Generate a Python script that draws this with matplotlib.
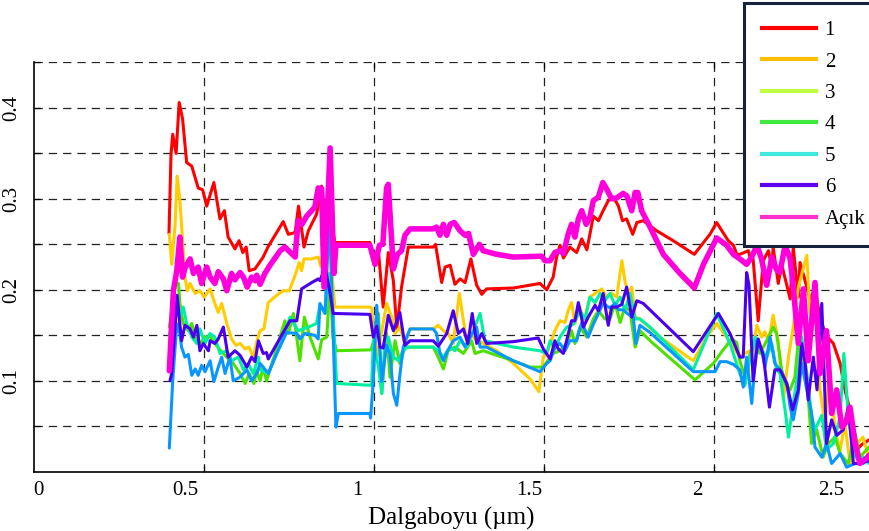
import matplotlib
matplotlib.use("Agg")
import matplotlib.pyplot as plt
from matplotlib.lines import Line2D

plt.rcParams["font.family"] = ["Liberation Serif", "DejaVu Serif"]
plt.rcParams["lines.scale_dashes"] = False

# ---- spectra (wavelength in µm, reflectance) ----
x1 = [0.397, 0.403, 0.408, 0.418, 0.427, 0.437, 0.449, 0.464, 0.483, 0.496, 0.508, 0.529, 0.547, 0.560,
      0.571, 0.591, 0.603, 0.614, 0.624, 0.633, 0.650, 0.674, 0.688, 0.709, 0.733, 0.748, 0.768, 0.778,
      0.784, 0.794, 0.807, 0.831, 0.846, 0.853, 0.862, 0.885, 0.988, 0.998, 1.013, 1.027, 1.042, 1.057,
      1.067, 1.081, 1.101, 1.174, 1.181, 1.199, 1.209, 1.224, 1.238, 1.253, 1.268, 1.285, 1.302, 1.317,
      1.331, 1.410, 1.488, 1.508, 1.527, 1.537, 1.547, 1.557, 1.576, 1.596, 1.611, 1.626, 1.635, 1.645,
      1.660, 1.674, 1.689, 1.704, 1.719, 1.731, 1.743, 1.761, 1.773, 1.792, 1.831, 1.880, 1.942, 1.988,
      2.008, 2.023, 2.042, 2.057, 2.067, 2.076, 2.101, 2.106, 2.115, 2.130, 2.145, 2.160, 2.170, 2.174,
      2.189, 2.199, 2.224, 2.233, 2.248, 2.253, 2.268, 2.282, 2.297, 2.312, 2.329, 2.351, 2.371, 2.385,
      2.400, 2.420, 2.435, 2.456]
y1 = [0.262, 0.349, 0.371, 0.350, 0.406, 0.388, 0.340, 0.336, 0.312, 0.310, 0.292, 0.318, 0.278, 0.287,
      0.258, 0.245, 0.254, 0.241, 0.247, 0.221, 0.223, 0.236, 0.247, 0.260, 0.275, 0.261, 0.263, 0.292,
      0.276, 0.247, 0.265, 0.283, 0.314, 0.289, 0.300, 0.252, 0.252, 0.236, 0.243, 0.181, 0.241, 0.210,
      0.157, 0.203, 0.247, 0.247, 0.250, 0.208, 0.225, 0.227, 0.206, 0.212, 0.208, 0.234, 0.205, 0.195,
      0.201, 0.202, 0.207, 0.200, 0.214, 0.236, 0.249, 0.235, 0.247, 0.241, 0.256, 0.244, 0.261, 0.281,
      0.276, 0.287, 0.298, 0.302, 0.292, 0.276, 0.278, 0.261, 0.274, 0.276, 0.265, 0.254, 0.239, 0.261,
      0.274, 0.265, 0.254, 0.249, 0.239, 0.239, 0.243, 0.236, 0.234, 0.166, 0.232, 0.243, 0.225, 0.247,
      0.207, 0.228, 0.190, 0.247, 0.192, 0.230, 0.210, 0.190, 0.200, 0.170, 0.150, 0.141, 0.119, 0.090,
      0.068, 0.024, 0.030, 0.035]

x2 = [0.398, 0.405, 0.415, 0.421, 0.429, 0.437, 0.444, 0.451, 0.459, 0.474, 0.488, 0.500, 0.518, 0.529,
      0.542, 0.552, 0.567, 0.581, 0.594, 0.606, 0.621, 0.632, 0.645, 0.655, 0.665, 0.676, 0.689, 0.714,
      0.733, 0.751, 0.768, 0.780, 0.787, 0.794, 0.817, 0.836, 0.843, 0.856, 0.869, 0.885, 0.988, 0.993,
      1.008, 1.023, 1.037, 1.052, 1.062, 1.076, 1.091, 1.106, 1.174, 1.189, 1.204, 1.218, 1.233, 1.251,
      1.263, 1.273, 1.287, 1.302, 1.321, 1.361, 1.410, 1.459, 1.485, 1.498, 1.513, 1.532, 1.547, 1.562,
      1.571, 1.581, 1.591, 1.606, 1.616, 1.635, 1.650, 1.670, 1.684, 1.699, 1.714, 1.729, 1.738, 1.748,
      1.758, 1.768, 1.782, 1.841, 1.939, 1.978, 2.008, 2.037, 2.076, 2.091, 2.115, 2.126, 2.140, 2.150,
      2.160, 2.174, 2.189, 2.204, 2.219, 2.233, 2.248, 2.273, 2.282, 2.302, 2.312, 2.326, 2.341, 2.356,
      2.371, 2.385, 2.400, 2.420, 2.438, 2.456]
y2 = [0.261, 0.228, 0.272, 0.325, 0.298, 0.254, 0.214, 0.199, 0.207, 0.196, 0.199, 0.192, 0.201, 0.188,
      0.175, 0.185, 0.163, 0.146, 0.139, 0.141, 0.135, 0.137, 0.126, 0.143, 0.155, 0.157, 0.186, 0.194,
      0.199, 0.199, 0.216, 0.230, 0.221, 0.234, 0.234, 0.236, 0.226, 0.232, 0.250, 0.181, 0.181, 0.180,
      0.126, 0.155, 0.185, 0.170, 0.152, 0.159, 0.141, 0.157, 0.157, 0.161, 0.155, 0.152, 0.141, 0.196,
      0.166, 0.144, 0.150, 0.144, 0.141, 0.133, 0.119, 0.102, 0.088, 0.126, 0.135, 0.155, 0.166, 0.164,
      0.177, 0.186, 0.163, 0.181, 0.163, 0.192, 0.196, 0.201, 0.192, 0.196, 0.192, 0.232, 0.210, 0.196,
      0.203, 0.170, 0.168, 0.148, 0.122, 0.148, 0.163, 0.148, 0.126, 0.130, 0.135, 0.161, 0.148, 0.154,
      0.143, 0.172, 0.144, 0.079, 0.126, 0.159, 0.203, 0.238, 0.174, 0.160, 0.090, 0.053, 0.112, 0.046,
      0.024, 0.053, 0.010, 0.031, 0.038, 0.015]

x3 = [0.398, 0.408, 0.415, 0.425, 0.429, 0.439, 0.454, 0.464, 0.474, 0.488, 0.503, 0.518, 0.532, 0.547,
      0.567, 0.586, 0.606, 0.621, 0.633, 0.647, 0.655, 0.665, 0.674, 0.684, 0.709, 0.738, 0.748, 0.763,
      0.782, 0.795, 0.812, 0.836, 0.846, 0.861, 0.871, 0.879, 0.890, 0.991, 0.998, 1.013, 1.023, 1.037,
      1.047, 1.062, 1.076, 1.091, 1.174, 1.189, 1.204, 1.218, 1.238, 1.263, 1.287, 1.297, 1.321, 1.361,
      1.410, 1.459, 1.498, 1.518, 1.527, 1.547, 1.567, 1.581, 1.591, 1.606, 1.626, 1.645, 1.660, 1.679,
      1.694, 1.709, 1.724, 1.738, 1.753, 1.768, 1.782, 1.812, 1.944, 1.998, 2.023, 2.052, 2.067, 2.076,
      2.091, 2.106, 2.121, 2.135, 2.155, 2.174, 2.184, 2.199, 2.209, 2.224, 2.238, 2.248, 2.263, 2.273,
      2.287, 2.302, 2.321, 2.336, 2.356, 2.371, 2.395, 2.415, 2.429, 2.456]
y3 = [0.159, 0.185, 0.207, 0.207, 0.185, 0.163, 0.155, 0.163, 0.148, 0.141, 0.148, 0.149, 0.141, 0.134,
      0.126, 0.119, 0.108, 0.097, 0.108, 0.097, 0.111, 0.100, 0.115, 0.100, 0.130, 0.166, 0.152, 0.174,
      0.122, 0.170, 0.148, 0.124, 0.145, 0.148, 0.210, 0.148, 0.133, 0.134, 0.142, 0.174, 0.086, 0.152,
      0.104, 0.144, 0.119, 0.137, 0.137, 0.126, 0.113, 0.133, 0.137, 0.130, 0.144, 0.130, 0.133, 0.128,
      0.122, 0.115, 0.115, 0.126, 0.130, 0.133, 0.141, 0.155, 0.141, 0.159, 0.148, 0.168, 0.177, 0.168,
      0.168, 0.185, 0.164, 0.181, 0.177, 0.137, 0.155, 0.144, 0.101, 0.119, 0.132, 0.146, 0.142, 0.122,
      0.104, 0.130, 0.144, 0.130, 0.144, 0.159, 0.152, 0.112, 0.097, 0.090, 0.104, 0.144, 0.122, 0.104,
      0.031, 0.046, 0.016, 0.031, 0.038, 0.020, 0.009, 0.042, 0.016, 0.027]

x4 = [0.398, 0.420, 0.429, 0.439, 0.449, 0.464, 0.479, 0.488, 0.503, 0.518, 0.532, 0.547, 0.567, 0.581,
      0.601, 0.616, 0.630, 0.645, 0.660, 0.665, 0.689, 0.714, 0.738, 0.753, 0.777, 0.807, 0.831, 0.841,
      0.856, 0.869, 0.880, 0.890, 0.993, 0.998, 1.013, 1.023, 1.032, 1.042, 1.057, 1.072, 1.081, 1.096,
      1.174, 1.189, 1.204, 1.224, 1.238, 1.253, 1.273, 1.292, 1.312, 1.326, 1.361, 1.410, 1.488, 1.508,
      1.518, 1.532, 1.547, 1.567, 1.586, 1.606, 1.621, 1.635, 1.650, 1.665, 1.679, 1.694, 1.709, 1.724,
      1.738, 1.753, 1.768, 1.782, 1.812, 1.939, 2.008, 2.047, 2.076, 2.091, 2.106, 2.121, 2.135, 2.155,
      2.170, 2.184, 2.194, 2.209, 2.219, 2.233, 2.248, 2.258, 2.273, 2.287, 2.297, 2.317, 2.331, 2.351,
      2.371, 2.382, 2.395, 2.410, 2.424, 2.439, 2.456]
y4 = [0.150, 0.185, 0.170, 0.181, 0.163, 0.148, 0.141, 0.157, 0.141, 0.152, 0.148, 0.130, 0.133, 0.122,
      0.126, 0.112, 0.119, 0.108, 0.126, 0.112, 0.108, 0.130, 0.152, 0.170, 0.155, 0.159, 0.163, 0.183,
      0.174, 0.218, 0.174, 0.097, 0.095, 0.144, 0.115, 0.086, 0.141, 0.148, 0.126, 0.122, 0.130, 0.137,
      0.137, 0.133, 0.126, 0.137, 0.133, 0.144, 0.137, 0.155, 0.174, 0.144, 0.141, 0.137, 0.133, 0.130,
      0.144, 0.135, 0.148, 0.159, 0.162, 0.177, 0.168, 0.192, 0.186, 0.196, 0.188, 0.196, 0.183, 0.192,
      0.177, 0.196, 0.168, 0.168, 0.159, 0.112, 0.174, 0.141, 0.108, 0.095, 0.124, 0.148, 0.137, 0.126,
      0.141, 0.112, 0.108, 0.068, 0.038, 0.075, 0.112, 0.148, 0.108, 0.062, 0.046, 0.062, 0.024, 0.031,
      0.060, 0.130, 0.060, 0.020, 0.013, 0.016, 0.009]

x5 = [0.398, 0.408, 0.418, 0.425, 0.434, 0.444, 0.454, 0.464, 0.474, 0.483, 0.493, 0.503, 0.518, 0.529,
      0.542, 0.552, 0.562, 0.576, 0.586, 0.606, 0.626, 0.640, 0.655, 0.665, 0.674, 0.689, 0.714, 0.743,
      0.773, 0.782, 0.797, 0.826, 0.836, 0.841, 0.856, 0.869, 0.880, 0.888, 0.895, 0.988, 0.990, 0.998,
      1.008, 1.018, 1.023, 1.037, 1.047, 1.057, 1.067, 1.076, 1.086, 1.096, 1.106, 1.174, 1.184, 1.194,
      1.204, 1.214, 1.233, 1.253, 1.268, 1.282, 1.302, 1.312, 1.331, 1.410, 1.488, 1.508, 1.518, 1.532,
      1.547, 1.562, 1.576, 1.596, 1.611, 1.630, 1.645, 1.660, 1.674, 1.694, 1.709, 1.719, 1.733, 1.748,
      1.763, 1.770, 1.782, 1.812, 1.939, 2.003, 2.018, 2.037, 2.057, 2.076, 2.086, 2.096, 2.111, 2.126,
      2.140, 2.150, 2.165, 2.179, 2.199, 2.214, 2.224, 2.233, 2.248, 2.258, 2.273, 2.287, 2.297, 2.317,
      2.331, 2.346, 2.371, 2.390, 2.415, 2.439, 2.456]
y5 = [0.026, 0.100, 0.152, 0.163, 0.137, 0.126, 0.129, 0.106, 0.113, 0.106, 0.117, 0.110, 0.122, 0.099,
      0.115, 0.126, 0.108, 0.126, 0.100, 0.104, 0.112, 0.100, 0.108, 0.119, 0.115, 0.108, 0.130, 0.153,
      0.152, 0.146, 0.152, 0.150, 0.146, 0.185, 0.174, 0.285, 0.150, 0.049, 0.064, 0.064, 0.059, 0.100,
      0.183, 0.130, 0.099, 0.139, 0.130, 0.086, 0.073, 0.106, 0.137, 0.148, 0.157, 0.157, 0.152, 0.130,
      0.122, 0.131, 0.144, 0.148, 0.137, 0.148, 0.159, 0.137, 0.137, 0.122, 0.110, 0.119, 0.122, 0.137,
      0.141, 0.133, 0.144, 0.144, 0.164, 0.148, 0.162, 0.174, 0.185, 0.180, 0.185, 0.178, 0.178, 0.173,
      0.170, 0.141, 0.161, 0.153, 0.110, 0.110, 0.121, 0.121, 0.118, 0.112, 0.093, 0.126, 0.075, 0.144,
      0.133, 0.115, 0.148, 0.119, 0.110, 0.097, 0.071, 0.057, 0.086, 0.119, 0.090, 0.064, 0.027, 0.016,
      0.031, 0.009, 0.020, 0.005, 0.009, 0.009, 0.016]

x6 = [0.400, 0.405, 0.415, 0.421, 0.427, 0.434, 0.444, 0.459, 0.469, 0.479, 0.488, 0.498, 0.513, 0.518,
      0.532, 0.542, 0.557, 0.571, 0.591, 0.606, 0.626, 0.640, 0.650, 0.660, 0.674, 0.684, 0.689, 0.733,
      0.753, 0.773, 0.787, 0.817, 0.836, 0.841, 0.856, 0.871, 0.880, 0.988, 0.998, 1.008, 1.018, 1.027,
      1.042, 1.057, 1.076, 1.091, 1.106, 1.174, 1.189, 1.214, 1.233, 1.248, 1.263, 1.276, 1.289, 1.302,
      1.317, 1.331, 1.410, 1.483, 1.498, 1.518, 1.532, 1.542, 1.557, 1.581, 1.591, 1.601, 1.616, 1.630,
      1.650, 1.660, 1.674, 1.689, 1.699, 1.714, 1.729, 1.743, 1.758, 1.773, 1.792, 1.939, 2.013, 2.047,
      2.076, 2.086, 2.096, 2.103, 2.115, 2.130, 2.145, 2.163, 2.179, 2.194, 2.214, 2.231, 2.248, 2.258,
      2.268, 2.277, 2.292, 2.303, 2.317, 2.331, 2.346, 2.361, 2.380, 2.395, 2.410, 2.429, 2.456]
y6 = [0.100, 0.108, 0.159, 0.194, 0.170, 0.144, 0.161, 0.157, 0.148, 0.161, 0.133, 0.141, 0.133, 0.144,
      0.141, 0.146, 0.159, 0.126, 0.133, 0.128, 0.115, 0.126, 0.121, 0.144, 0.130, 0.131, 0.124, 0.153,
      0.166, 0.166, 0.201, 0.208, 0.212, 0.210, 0.225, 0.196, 0.174, 0.173, 0.148, 0.160, 0.137, 0.136,
      0.172, 0.155, 0.175, 0.139, 0.144, 0.144, 0.138, 0.152, 0.177, 0.152, 0.157, 0.141, 0.174, 0.141,
      0.152, 0.141, 0.143, 0.147, 0.135, 0.124, 0.144, 0.135, 0.130, 0.166, 0.166, 0.186, 0.159, 0.170,
      0.183, 0.177, 0.196, 0.161, 0.181, 0.181, 0.184, 0.203, 0.170, 0.188, 0.185, 0.132, 0.174, 0.152,
      0.126, 0.126, 0.219, 0.205, 0.100, 0.146, 0.128, 0.071, 0.112, 0.112, 0.097, 0.068, 0.090, 0.141,
      0.120, 0.079, 0.126, 0.090, 0.185, 0.031, 0.057, 0.040, 0.046, 0.071, 0.009, 0.009, 0.012]

x7 = [0.398, 0.410, 0.420, 0.429, 0.437, 0.444, 0.459, 0.469, 0.483, 0.493, 0.508, 0.518, 0.532, 0.542,
      0.557, 0.567, 0.581, 0.591, 0.606, 0.616, 0.627, 0.640, 0.650, 0.655, 0.665, 0.679, 0.694, 0.724,
      0.738, 0.768, 0.777, 0.788, 0.802, 0.826, 0.836, 0.846, 0.853, 0.871, 0.882, 0.888, 0.988, 1.003,
      1.016, 1.026, 1.037, 1.042, 1.049, 1.057, 1.069, 1.081, 1.091, 1.106, 1.174, 1.184, 1.194, 1.204,
      1.214, 1.224, 1.236, 1.253, 1.268, 1.278, 1.292, 1.310, 1.321, 1.361, 1.410, 1.493, 1.503, 1.518,
      1.532, 1.547, 1.557, 1.571, 1.581, 1.591, 1.601, 1.611, 1.624, 1.635, 1.645, 1.660, 1.673, 1.684,
      1.699, 1.714, 1.733, 1.744, 1.758, 1.768, 1.776, 1.787, 1.812, 1.851, 1.900, 1.942, 1.969, 2.008,
      2.037, 2.057, 2.076, 2.096, 2.111, 2.126, 2.140, 2.155, 2.170, 2.184, 2.194, 2.209, 2.224, 2.233,
      2.248, 2.263, 2.277, 2.297, 2.312, 2.331, 2.346, 2.361, 2.376, 2.389, 2.400, 2.415, 2.429, 2.449,
      2.456]
y7 = [0.111, 0.199, 0.221, 0.258, 0.214, 0.224, 0.234, 0.218, 0.225, 0.207, 0.225, 0.214, 0.207, 0.220,
      0.212, 0.199, 0.218, 0.211, 0.219, 0.214, 0.203, 0.214, 0.210, 0.216, 0.206, 0.218, 0.227, 0.243,
      0.247, 0.236, 0.276, 0.272, 0.281, 0.291, 0.312, 0.311, 0.203, 0.356, 0.218, 0.249, 0.249, 0.228,
      0.249, 0.250, 0.312, 0.316, 0.272, 0.223, 0.239, 0.243, 0.260, 0.267, 0.267, 0.269, 0.260, 0.272,
      0.260, 0.272, 0.274, 0.265, 0.260, 0.262, 0.239, 0.250, 0.243, 0.239, 0.236, 0.237, 0.232, 0.232,
      0.241, 0.243, 0.240, 0.261, 0.272, 0.258, 0.278, 0.287, 0.272, 0.280, 0.298, 0.302, 0.318, 0.311,
      0.300, 0.301, 0.306, 0.303, 0.287, 0.307, 0.307, 0.287, 0.269, 0.239, 0.218, 0.202, 0.228, 0.257,
      0.249, 0.239, 0.234, 0.228, 0.236, 0.249, 0.234, 0.205, 0.236, 0.222, 0.219, 0.249, 0.234, 0.203,
      0.141, 0.201, 0.122, 0.208, 0.108, 0.155, 0.064, 0.090, 0.049, 0.055, 0.071, 0.031, 0.009, 0.015,
      0.018]

labels = ["1", "2", "3", "4", "5", "6", "Açık"]
line_colors = ["#ff0000", "#ffcc00", "#4ee000", "#00f0a0", "#0a96ff", "#4a00ee", "#ff00dc"]
legend_colors = ["#ff0000", "#ffbf00", "#bfff3f", "#40e840", "#40e8e0", "#6000f0", "#ff30cc"]
widths = [2.2, 2.2, 2.2, 2.2, 2.2, 2.2, 4.0]

xticks_grid = [0.5, 1.0, 1.5, 2.0]
xtick_label_pos = [0.014, 0.446, 0.951, 1.457, 1.951, 2.346]
xtick_labels = ["0", "0.5", "1", "1.5", "2", "2.5"]
yticks_major = [0.1, 0.2, 0.3, 0.4]
yticks_minor = [0.05, 0.15, 0.25, 0.35, 0.45]

fig = plt.figure(figsize=(8.69, 5.31), dpi=100)
ax = fig.add_axes([34 / 869, 1 - 471.7 / 531, (869 - 34) / 869, (471.7 - 62) / 531])

series = [(x1, y1), (x2, y2), (x3, y3), (x4, y4), (x5, y5), (x6, y6), (x7, y7)]
for (xs, ys), c, lw in zip(series, line_colors, widths):
    ax.plot(xs, ys, color=c, lw=lw, solid_joinstyle="round", solid_capstyle="round")

ax.set_xlim(0, 835 / 340)
ax.set_ylim(0, 0.4505)

# grid lines
dash = (0, (6.0, 4.3))
ax.set_xticks(xticks_grid)
ax.set_xticklabels([])
ax.set_xticks(xtick_label_pos, minor=True)
ax.set_xticklabels(xtick_labels, minor=True)
ax.set_yticks(yticks_major)
ax.set_yticks(yticks_minor, minor=True)
ax.set_yticklabels(["0.1", "0.2", "0.3", "0.4"], rotation=90, va="center")
ax.xaxis.grid(True, which="major", color="#222222", lw=0.9, linestyle=dash)
ax.yaxis.grid(True, which="both", color="#222222", lw=0.9, linestyle=dash)
ax.set_axisbelow(True)

ax.tick_params(axis="x", which="major", direction="in", length=4, top=True, bottom=True, width=0.9)
ax.tick_params(axis="x", which="minor", length=0, pad=7, labelsize=15)
ax.tick_params(axis="y", which="both", direction="in", length=4, width=0.9, pad=9, labelsize=15)

for side in ("top", "right"):
    ax.spines[side].set_visible(False)
for side in ("left", "bottom"):
    ax.spines[side].set_linewidth(1.2)
    ax.spines[side].set_color("black")

ax.set_xlabel("Dalgaboyu (µm)", fontsize=18, labelpad=5)

handles = [Line2D([0], [0], color=c, lw=3) for c in legend_colors]
leg = ax.legend(handles, labels, loc="upper left", bbox_to_anchor=(744 / 869, 1 - 3 / 531),
                bbox_transform=fig.transFigure, fontsize=15, frameon=True, fancybox=False,
                handlelength=2.6, handletextpad=0.43, labelspacing=0.57, borderpad=0.84,
                borderaxespad=0)
frame = leg.get_frame()
frame.set_edgecolor("#16223e")
frame.set_linewidth(2.2)
frame.set_facecolor("white")
frame.set_alpha(1)

fig.savefig("out.png", dpi=100)
